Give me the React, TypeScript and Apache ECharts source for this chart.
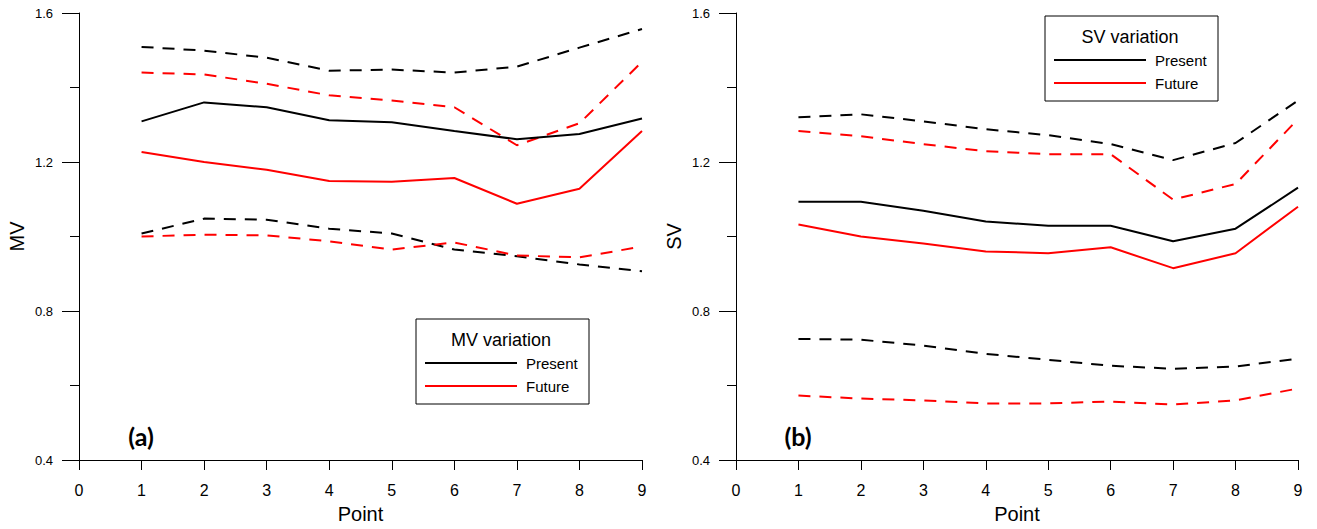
import React, { useEffect, useRef } from "react";
import * as echarts from "echarts";

const points = [1, 2, 3, 4, 5, 6, 7, 8, 9];
const xTicks = [0, 9];
const yTicks = [0.4, 1.6];

// Panel (a) MV
const mvPresentMean = [1.309, 1.36, 1.347, 1.312, 1.307, 1.283, 1.261, 1.275, 1.317];
const mvFutureMean = [1.227, 1.2, 1.179, 1.149, 1.147, 1.157, 1.088, 1.128, 1.283];
const mvPresentUpper = [1.509, 1.499, 1.48, 1.445, 1.448, 1.44, 1.456, 1.507, 1.557];
const mvFutureUpper = [1.44, 1.435, 1.41, 1.379, 1.365, 1.347, 1.245, 1.304, 1.469];
const mvPresentLower = [1.008, 1.048, 1.045, 1.021, 1.008, 0.965, 0.947, 0.925, 0.907];
const mvFutureLower = [1.0, 1.005, 1.003, 0.987, 0.965, 0.984, 0.949, 0.944, 0.973];

// Panel (b) SV
const svPresentMean = [1.093, 1.093, 1.069, 1.04, 1.029, 1.029, 0.987, 1.021, 1.131];
const svFutureMean = [1.032, 1.0, 0.981, 0.96, 0.955, 0.971, 0.915, 0.955, 1.08];
const svPresentUpper = [1.32, 1.328, 1.309, 1.288, 1.272, 1.248, 1.205, 1.251, 1.365];
const svFutureUpper = [1.283, 1.269, 1.248, 1.229, 1.221, 1.221, 1.099, 1.141, 1.315];
const svPresentLower = [0.725, 0.723, 0.707, 0.685, 0.669, 0.653, 0.645, 0.651, 0.672];
const svFutureLower = [0.573, 0.565, 0.56, 0.552, 0.552, 0.557, 0.549, 0.56, 0.592];

const FONT = "Liberation Sans, Arial, sans-serif";
const BLACK = "#000000";
const RED = "#ff0000";

function pairs(vals: number[]) {
  return points.map((p, i) => [p, vals[i]]);
}

function line(name: string, vals: number[], color: string, dashed: boolean, idx: number) {
  return {
    type: "line",
    name,
    xAxisIndex: idx,
    yAxisIndex: idx,
    data: pairs(vals),
    showSymbol: false,
    symbol: "none",
    smooth: false,
    lineStyle: { color, width: 2, type: dashed ? [12, 9] : "solid" },
    z: dashed ? 2 : 3,
  };
}

function xAxis(idx: number) {
  return {
    type: "value",
    gridIndex: idx,
    min: xTicks[0],
    max: xTicks[1],
    interval: 1,
    name: "Point",
    nameLocation: "middle",
    nameGap: 44,
    nameTextStyle: { fontFamily: FONT, fontSize: 20, color: "#000" },
    axisLine: { show: true, lineStyle: { color: "#000", width: 1 } },
    axisTick: { show: true, length: 10, lineStyle: { color: "#000" } },
    axisLabel: { fontFamily: FONT, fontSize: 16, color: "#000", margin: 22 },
    splitLine: { show: false },
  };
}

function yAxis(idx: number, name: string) {
  return {
    type: "value",
    gridIndex: idx,
    min: yTicks[0],
    max: yTicks[1],
    interval: 0.4,
    name,
    nameLocation: "middle",
    nameGap: 52,
    nameRotate: 90,
    nameTextStyle: { fontFamily: FONT, fontSize: 20, color: "#000" },
    axisLine: { show: true, lineStyle: { color: "#000", width: 1 } },
    axisTick: { show: true, length: 17, lineStyle: { color: "#000" } },
    minorTick: { show: true, splitNumber: 2, length: 9, lineStyle: { color: "#000" } },
    axisLabel: {
      fontFamily: FONT,
      fontSize: 13,
      color: "#000",
      margin: 26,
      formatter: (v: number) => v.toFixed(1),
    },
    splitLine: { show: false },
    minorSplitLine: { show: false },
  };
}

function legendBox(x: number, y: number, w: number, h: number, title: string) {
  return {
    type: "group",
    children: [
      { type: "rect", shape: { x, y, width: w, height: h }, style: { fill: "#fff", stroke: "#000", lineWidth: 1 }, z: 10 },
      {
        type: "text",
        x: x + 85,
        y: y + 21,
        style: { text: title, fontFamily: FONT, fontSize: 18, fill: "#000", align: "center", verticalAlign: "middle" },
        z: 11,
      },
      { type: "line", shape: { x1: x + 9, y1: y + 44, x2: x + 101, y2: y + 44 }, style: { stroke: BLACK, lineWidth: 2 }, z: 11 },
      {
        type: "text",
        x: x + 110,
        y: y + 44,
        style: { text: "Present", fontFamily: FONT, fontSize: 15, fill: "#000", align: "left", verticalAlign: "middle" },
        z: 11,
      },
      { type: "line", shape: { x1: x + 9, y1: y + 67, x2: x + 101, y2: y + 67 }, style: { stroke: RED, lineWidth: 2 }, z: 11 },
      {
        type: "text",
        x: x + 110,
        y: y + 67,
        style: { text: "Future", fontFamily: FONT, fontSize: 15, fill: "#000", align: "left", verticalAlign: "middle" },
        z: 11,
      },
    ],
  };
}

export default function App() {
  const ref = useRef<HTMLDivElement>(null);
  useEffect(() => {
    document.body.style.margin = "0";
    if (!ref.current) return;
    const chart = echarts.init(ref.current, null, { renderer: "svg" });
    chart.setOption({
      animation: false,
      backgroundColor: "#ffffff",
      grid: [
        { left: 79, top: 13, width: 563, height: 450 },
        { left: 736, top: 13, width: 562, height: 450 },
      ],
      xAxis: [xAxis(0), xAxis(1)],
      yAxis: [yAxis(0, "MV"), yAxis(1, "SV")],
      series: [
        line("MV Present upper", mvPresentUpper, BLACK, true, 0),
        line("MV Future upper", mvFutureUpper, RED, true, 0),
        line("MV Present", mvPresentMean, BLACK, false, 0),
        line("MV Future", mvFutureMean, RED, false, 0),
        line("MV Present lower", mvPresentLower, BLACK, true, 0),
        line("MV Future lower", mvFutureLower, RED, true, 0),
        line("SV Present upper", svPresentUpper, BLACK, true, 1),
        line("SV Future upper", svFutureUpper, RED, true, 1),
        line("SV Present", svPresentMean, BLACK, false, 1),
        line("SV Future", svFutureMean, RED, false, 1),
        line("SV Present lower", svPresentLower, BLACK, true, 1),
        line("SV Future lower", svFutureLower, RED, true, 1),
      ],
      graphic: [
        legendBox(416, 319, 173, 85, "MV variation"),
        legendBox(1045, 16, 173, 85, "SV variation"),
        {
          type: "text",
          x: 141,
          y: 436,
          style: { text: "(a)", fontFamily: "Lato, Open Sans, sans-serif", fontWeight: "bold", fontSize: 25, fill: "#000", align: "center", verticalAlign: "middle" },
        },
        {
          type: "text",
          x: 798,
          y: 436,
          style: { text: "(b)", fontFamily: "Lato, Open Sans, sans-serif", fontWeight: "bold", fontSize: 25, fill: "#000", align: "center", verticalAlign: "middle" },
        },
      ],
    });
    return () => chart.dispose();
  }, []);
  return <div ref={ref} style={{ width: 1317, height: 529 }} />;
}
